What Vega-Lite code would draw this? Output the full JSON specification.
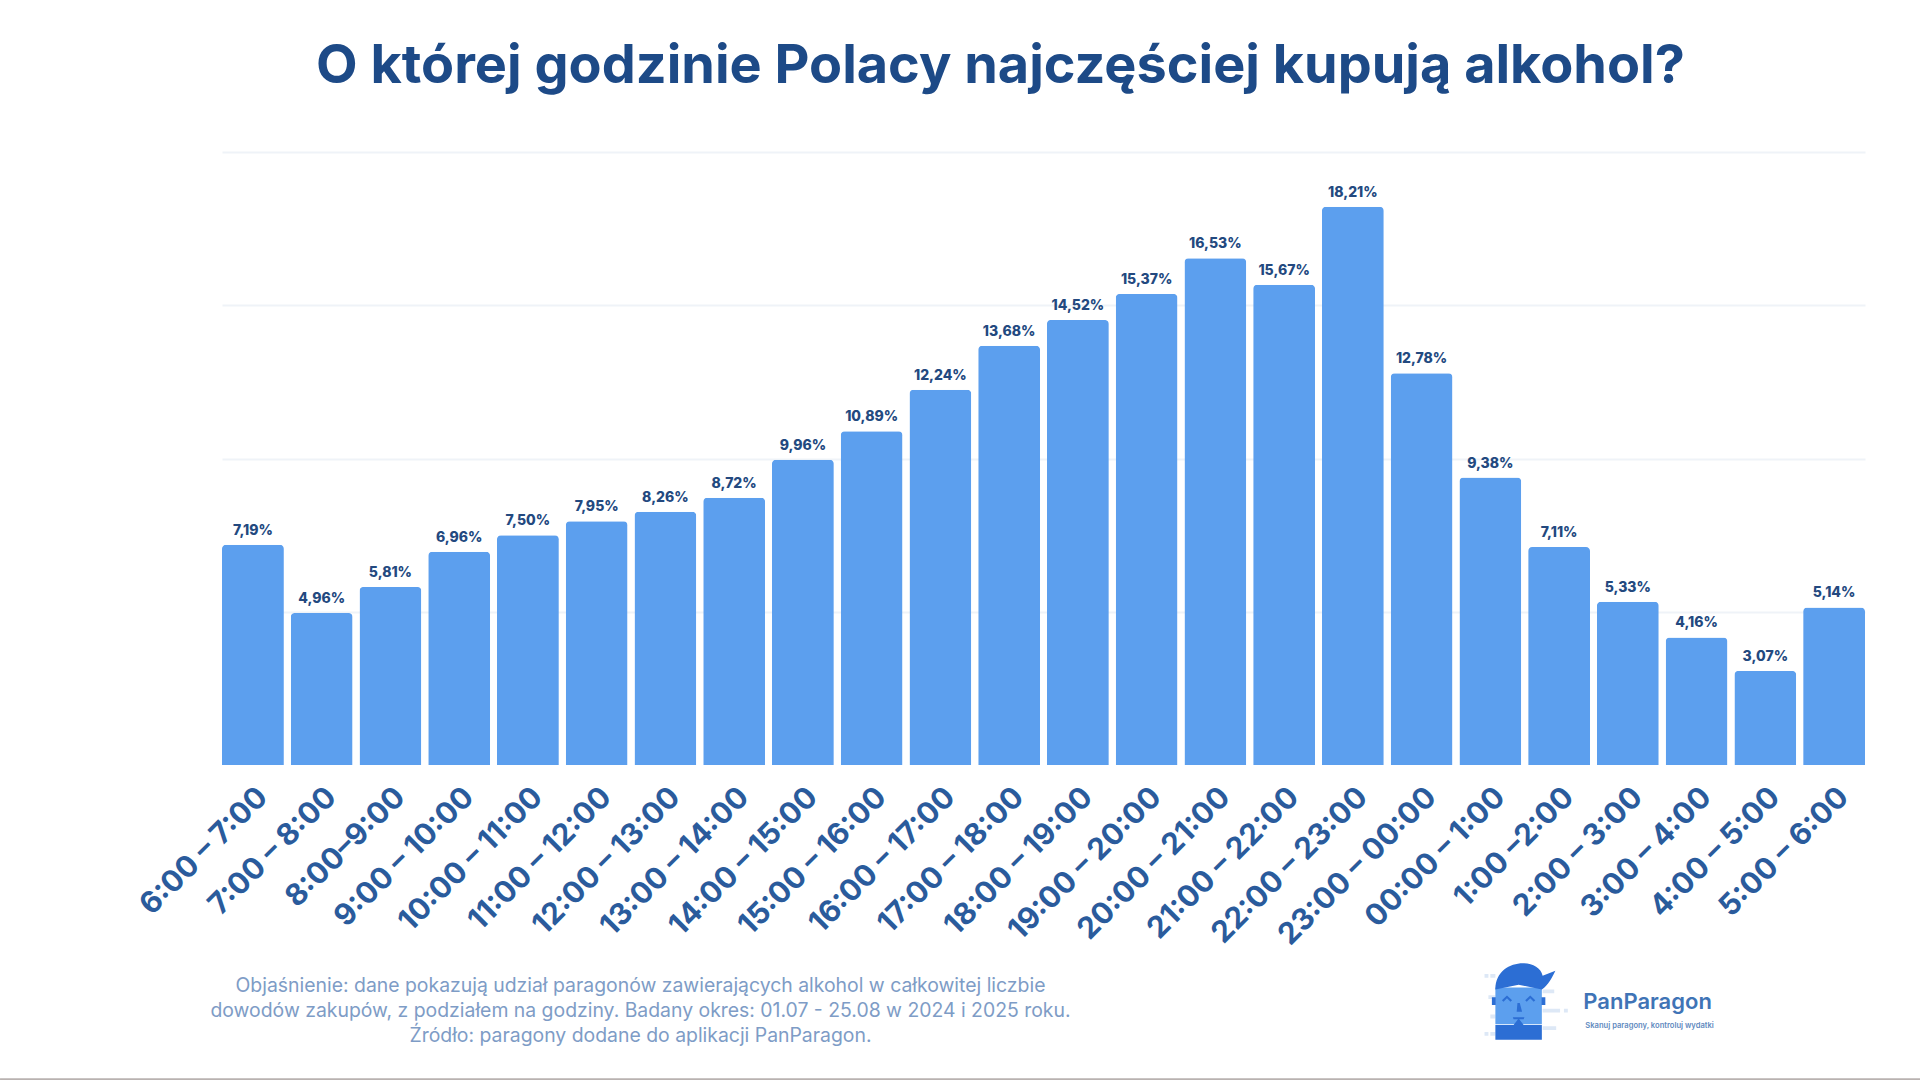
{
  "$schema": "https://vega.github.io/schema/vega-lite/v6.json",
  "description": "O której godzinie Polacy najczęściej kupują alkohol",
  "autosize": "none",
  "width": 1643,
  "height": 613,
  "padding": {"left": 222, "top": 152, "right": 55, "bottom": 315},
  "background": "#ffffff",
  "title": {
    "text": "O której godzinie Polacy najczęściej kupują alkohol?",
    "anchor": "middle",
    "dx": -43,
    "offset": 58,
    "font": "Inter",
    "fontSize": 54,
    "fontWeight": 700,
    "color": "#1d4a87"
  },
  "config": {"view": {"stroke": null}},
  "resolve": {"scale": {"x": "independent"}, "axis": {"x": "independent"}},
  "layer": [
    {
      "data": {"values": [{"od": -0.1351, "do": 1.0335, "poziom": -10.25}]},
      "mark": {"type": "rule", "color": "#b9b2b0", "strokeWidth": 2},
      "encoding": {
        "x": {"field": "od", "type": "quantitative", "scale": {"domain": [0, 1]}, "axis": null},
        "x2": {"field": "do"},
        "y": {"field": "poziom", "type": "quantitative", "scale": {"domain": [0, 20]}}
      }
    },
    {
      "data": {
        "values": [
          {"godzina": "6:00 – 7:00", "udzial": 7.19, "etykieta": "7,19%"},
          {"godzina": "7:00 – 8:00", "udzial": 4.96, "etykieta": "4,96%"},
          {"godzina": "8:00–9:00", "udzial": 5.81, "etykieta": "5,81%"},
          {"godzina": "9:00 – 10:00", "udzial": 6.96, "etykieta": "6,96%"},
          {"godzina": "10:00 – 11:00", "udzial": 7.5, "etykieta": "7,50%"},
          {"godzina": "11:00 – 12:00", "udzial": 7.95, "etykieta": "7,95%"},
          {"godzina": "12:00 – 13:00", "udzial": 8.26, "etykieta": "8,26%"},
          {"godzina": "13:00 – 14:00", "udzial": 8.72, "etykieta": "8,72%"},
          {"godzina": "14:00 – 15:00", "udzial": 9.96, "etykieta": "9,96%"},
          {"godzina": "15:00 – 16:00", "udzial": 10.89, "etykieta": "10,89%"},
          {"godzina": "16:00 – 17:00", "udzial": 12.24, "etykieta": "12,24%"},
          {"godzina": "17:00 – 18:00", "udzial": 13.68, "etykieta": "13,68%"},
          {"godzina": "18:00 – 19:00", "udzial": 14.52, "etykieta": "14,52%"},
          {"godzina": "19:00 – 20:00", "udzial": 15.37, "etykieta": "15,37%"},
          {"godzina": "20:00 – 21:00", "udzial": 16.53, "etykieta": "16,53%"},
          {"godzina": "21:00 – 22:00", "udzial": 15.67, "etykieta": "15,67%"},
          {"godzina": "22:00 – 23:00", "udzial": 18.21, "etykieta": "18,21%"},
          {"godzina": "23:00 – 00:00", "udzial": 12.78, "etykieta": "12,78%"},
          {"godzina": "00:00 – 1:00", "udzial": 9.38, "etykieta": "9,38%"},
          {"godzina": "1:00 –2:00", "udzial": 7.11, "etykieta": "7,11%"},
          {"godzina": "2:00 – 3:00", "udzial": 5.33, "etykieta": "5,33%"},
          {"godzina": "3:00 – 4:00", "udzial": 4.16, "etykieta": "4,16%"},
          {"godzina": "4:00 – 5:00", "udzial": 3.07, "etykieta": "3,07%"},
          {"godzina": "5:00 – 6:00", "udzial": 5.14, "etykieta": "5,14%"}
        ]
      },
      "encoding": {
        "x": {
          "field": "godzina",
          "type": "nominal",
          "sort": null,
          "scale": {"paddingInner": 0.1, "paddingOuter": 0},
          "axis": {
            "title": [
              "Objaśnienie: dane pokazują udział paragonów zawierających alkohol w całkowitej liczbie",
              "dowodów zakupów, z podziałem na godziny. Badany okres: 01.07 - 25.08 w 2024 i 2025 roku.",
              "Źródło: paragony dodane do aplikacji PanParagon."
            ],
            "titleX": 418,
            "titleY": 211,
            "titleAlign": "center",
            "titleBaseline": "top",
            "titleFont": "Inter",
            "titleFontSize": 19.4,
            "titleFontWeight": 400,
            "titleColor": "#7e9cc6",
            "titleLineHeight": 25,
            "labelAngle": -45,
            "labelAlign": "right",
            "labelBaseline": "middle",
            "labelFont": "Inter",
            "labelFontSize": 30,
            "labelFontWeight": 700,
            "labelColor": "#2a5b9c",
            "labelOverlap": false,
            "labelPadding": 27,
            "labelOffset": 10,
            "labelLimit": 0,
            "ticks": false,
            "domain": false
          }
        },
        "y": {
          "field": "udzial",
          "type": "quantitative",
          "scale": {"domain": [0, 20]},
          "axis": {
            "title": null,
            "values": [5, 10, 15, 20],
            "labels": false,
            "ticks": false,
            "domain": false,
            "grid": true,
            "gridColor": "#eff3f8",
            "gridWidth": 2
          }
        }
      },
      "layer": [
        {
          "mark": {"type": "bar", "color": "#5c9fee", "cornerRadiusTopLeft": 4, "cornerRadiusTopRight": 4}
        },
        {
          "mark": {"type": "text", "baseline": "bottom", "dy": -7, "font": "Inter", "fontSize": 14, "fontWeight": 800, "color": "#23497f"},
          "encoding": {"text": {"field": "etykieta"}}
        },
        {
          "data": {"values": [{"godzina": "00:00 – 1:00", "poziom": -7.7}]},
          "mark": {"type": "point", "filled": true, "opacity": 1, "size": 6000, "color": "#dde8f6",
            "shape": "M-0.15 -0.7 h0.1 v0.1 h-0.1 Z M0.0 -0.7 h0.13 v0.1 h-0.13 Z M-0.05 -0.15 h0.18 v0.1 h-0.18 Z M0.0 0.35 h0.13 v0.1 h-0.13 Z M-0.15 0.8 h0.1 v0.1 h-0.1 Z M0.0 0.8 h0.13 v0.1 h-0.13 Z M1.35 -0.3 h0.3 v0.1 h-0.3 Z M1.35 0.2 h0.45 v0.1 h-0.45 Z M1.9 0.2 h0.1 v0.1 h-0.1 Z M1.35 0.65 h0.35 v0.1 h-0.35 Z"},
          "encoding": {"y": {"field": "poziom", "type": "quantitative"}}
        },
        {
          "data": {"values": [{"godzina": "00:00 – 1:00", "poziom": -7.7}]},
          "mark": {"type": "point", "filled": true, "opacity": 1, "size": 6000, "color": "#5c9fee",
            "shape": "M0.13 -0.35 L1.33 -0.35 L1.33 0.6 L0.13 0.6 Z"},
          "encoding": {"y": {"field": "poziom", "type": "quantitative"}}
        },
        {
          "data": {"values": [{"godzina": "00:00 – 1:00", "poziom": -7.7}]},
          "mark": {"type": "point", "filled": true, "opacity": 1, "size": 6000, "color": "#2c6ed4",
            "shape": "M0.13 -0.3 C0.13 -1.1 1.25 -1.15 1.35 -0.65 L1.68 -0.78 C1.55 -0.5 1.42 -0.35 1.33 -0.3 L0.73 -0.42 Z M0.13 0.62 L0.6 0.62 L0.73 0.45 L0.86 0.62 L1.33 0.62 L1.33 1 L0.13 1 Z M0.04 -0.1 h0.1 v0.2 h-0.1 Z M1.32 -0.1 h0.1 v0.2 h-0.1 Z M0.3 -0.02 L0.43 -0.14 L0.56 -0.02 L0.52 0.02 L0.43 -0.07 L0.34 0.02 Z M0.9 -0.02 L1.03 -0.14 L1.16 -0.02 L1.12 0.02 L1.03 -0.07 L0.94 0.02 Z M0.7 0.05 L0.76 0.05 L0.82 0.28 L0.68 0.28 Z M0.58 0.42 L0.88 0.42 L0.86 0.47 L0.6 0.47 Z"},
          "encoding": {"y": {"field": "poziom", "type": "quantitative"}}
        },
        {
          "data": {"values": [{"godzina": "00:00 – 1:00", "poziom": -7.72, "tekst": "PanParagon"}]},
          "mark": {"type": "text", "align": "left", "baseline": "middle", "dx": 93, "font": "Inter", "fontSize": 22, "fontWeight": 600, "color": "#3f74b6"},
          "encoding": {
            "y": {"field": "poziom", "type": "quantitative"},
            "text": {"field": "tekst"}
          }
        },
        {
          "data": {"values": [{"godzina": "00:00 – 1:00", "poziom": -8.5, "tekst": "Skanuj paragony, kontroluj wydatki"}]},
          "mark": {"type": "text", "align": "left", "baseline": "middle", "dx": 95, "font": "Inter", "fontSize": 7.6, "fontWeight": 600, "color": "#5f8ac0"},
          "encoding": {
            "y": {"field": "poziom", "type": "quantitative"},
            "text": {"field": "tekst"}
          }
        }
      ]
    }
  ]
}
